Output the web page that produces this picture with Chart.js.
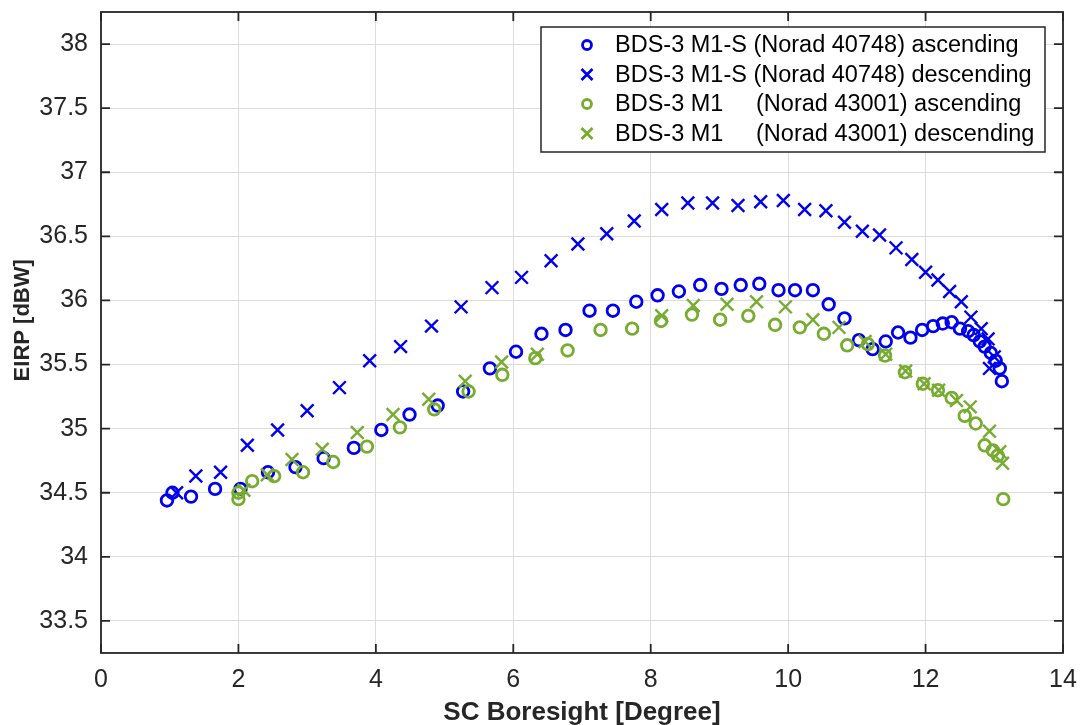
<!DOCTYPE html>
<html>
<head>
<meta charset="utf-8">
<script src="https://cdn.jsdelivr.net/npm/chart.js@4.4.1/dist/chart.umd.min.js"></script>
<style>
  html, body { margin: 0; padding: 0; background: #fff; }
</style>
</head>
<body>
<canvas id="grafico" width="1080" height="725"></canvas>
<script>
// Marcas dos eixos
const xTicks = [0, 2, 4, 6, 8, 10, 12, 14];
const yTicks = [33.5, 34, 34.5, 35, 35.5, 36, 36.5, 37, 37.5, 38];

// BDS-3 M1-S (Norad 40748) ascending
const m1sAscX = [0.96, 1.04, 1.31, 1.66, 2.03, 2.43, 2.83, 3.24, 3.68, 4.08, 4.49, 4.90, 5.27, 5.66, 6.04, 6.41, 6.76, 7.11, 7.45, 7.79, 8.10, 8.41, 8.72, 9.03, 9.31, 9.58, 9.86, 10.10, 10.36, 10.59, 10.82, 11.03, 11.23, 11.42, 11.60, 11.78, 11.95, 12.11, 12.25, 12.38, 12.50, 12.62, 12.70, 12.79, 12.86, 12.95, 13.02, 13.08, 13.11];
const m1sAscY = [34.44, 34.50, 34.47, 34.53, 34.53, 34.66, 34.70, 34.77, 34.85, 34.99, 35.11, 35.18, 35.29, 35.47, 35.60, 35.74, 35.77, 35.92, 35.92, 35.99, 36.04, 36.07, 36.12, 36.09, 36.12, 36.13, 36.08, 36.08, 36.08, 35.97, 35.86, 35.69, 35.62, 35.68, 35.75, 35.71, 35.77, 35.80, 35.82, 35.83, 35.78, 35.76, 35.73, 35.68, 35.64, 35.59, 35.53, 35.47, 35.37];

// BDS-3 M1-S (Norad 40748) descending
const m1sDescX = [1.10, 1.38, 1.74, 2.13, 2.57, 3.00, 3.47, 3.91, 4.36, 4.81, 5.24, 5.69, 6.12, 6.55, 6.94, 7.36, 7.76, 8.16, 8.54, 8.90, 9.27, 9.60, 9.93, 10.24, 10.55, 10.82, 11.08, 11.33, 11.57, 11.80, 12.00, 12.18, 12.35, 12.52, 12.66, 12.81, 12.91, 13.00, 12.93];
const m1sDescY = [34.50, 34.63, 34.66, 34.87, 34.99, 35.14, 35.32, 35.53, 35.64, 35.80, 35.95, 36.10, 36.18, 36.31, 36.44, 36.52, 36.62, 36.71, 36.76, 36.76, 36.74, 36.77, 36.78, 36.71, 36.70, 36.61, 36.54, 36.51, 36.41, 36.32, 36.22, 36.16, 36.07, 35.99, 35.87, 35.78, 35.70, 35.56, 35.47];

// BDS-3 M1 (Norad 43001) ascending
const m1AscX = [2.00, 2.00, 2.20, 2.52, 2.94, 3.38, 3.87, 4.35, 4.85, 5.35, 5.84, 6.32, 6.79, 7.27, 7.73, 8.15, 8.60, 9.01, 9.42, 9.81, 10.17, 10.52, 10.86, 11.16, 11.41, 11.70, 11.96, 12.18, 12.38, 12.57, 12.73, 12.86, 12.98, 13.05, 13.13];
const m1AscY = [34.45, 34.50, 34.59, 34.63, 34.66, 34.74, 34.86, 35.01, 35.15, 35.29, 35.42, 35.55, 35.61, 35.77, 35.78, 35.84, 35.89, 35.85, 35.88, 35.81, 35.79, 35.74, 35.65, 35.66, 35.57, 35.44, 35.35, 35.30, 35.24, 35.10, 35.04, 34.87, 34.83, 34.79, 34.45];

// BDS-3 M1 (Norad 43001) descending
const m1DescX = [2.08, 2.42, 2.78, 3.22, 3.73, 4.25, 4.77, 5.30, 5.83, 6.35, 8.16, 8.62, 9.11, 9.54, 9.96, 10.36, 10.74, 11.12, 11.42, 11.71, 11.98, 12.19, 12.45, 12.65, 12.93, 13.08, 13.12];
const m1DescY = [34.52, 34.64, 34.76, 34.84, 34.97, 35.11, 35.23, 35.37, 35.52, 35.58, 35.88, 35.96, 35.97, 35.99, 35.95, 35.85, 35.79, 35.68, 35.58, 35.45, 35.35, 35.30, 35.22, 35.17, 34.98, 34.82, 34.73];

const AZUL = '#0000ee';
const VERDE = '#77ac30';
const TEXTO = '#262626';
const FONTE = '"Liberation Sans", Arial, sans-serif';

const pontos = (xs, ys) => xs.map((x, i) => ({ x, y: ys[i] }));

const serie = (label, xs, ys, cor, estilo, ordem) => ({
  label,
  data: pontos(xs, ys),
  showLine: false,
  borderColor: cor,
  backgroundColor: 'rgba(0,0,0,0)',
  pointStyle: estilo,
  pointRadius: estilo === 'circle' ? 5.8 : 9,
  pointBorderWidth: estilo === 'circle' ? 2.8 : 2.4,
  order: ordem,
});

// Moldura da área do gráfico com marcas voltadas para dentro (estilo MATLAB)
const moldura = {
  id: 'moldura',
  afterDatasetsDraw(chart) {
    const { ctx, chartArea: a, scales: { x, y } } = chart;
    const len = 9;
    ctx.save();
    ctx.strokeStyle = TEXTO;
    ctx.lineWidth = 1.8;
    ctx.beginPath();
    xTicks.forEach((v) => {
      const px = x.getPixelForValue(v);
      ctx.moveTo(px, a.bottom); ctx.lineTo(px, a.bottom - len);
      ctx.moveTo(px, a.top); ctx.lineTo(px, a.top + len);
    });
    yTicks.forEach((v) => {
      const py = y.getPixelForValue(v);
      ctx.moveTo(a.left, py); ctx.lineTo(a.left + len, py);
      ctx.moveTo(a.right, py); ctx.lineTo(a.right - len, py);
    });
    ctx.stroke();
    ctx.strokeRect(a.left, a.top, a.right - a.left, a.bottom - a.top);
    ctx.restore();
  },
};

// Legenda dentro da área, canto superior direito, com caixa
const legenda = {
  id: 'legenda',
  afterDraw(chart) {
    const { ctx, chartArea: a } = chart;
    const w = 504, h = 125;
    const bx = a.right - 18 - w, by = a.top + 15;
    ctx.save();
    ctx.fillStyle = '#fff';
    ctx.fillRect(bx, by, w, h);
    ctx.strokeStyle = TEXTO;
    ctx.lineWidth = 1.5;
    ctx.strokeRect(bx, by, w, h);
    ctx.font = '23.5px ' + FONTE;
    ctx.textBaseline = 'middle';
    chart.data.datasets.forEach((ds, i) => {
      const cy = by + 18 + i * 29.5;
      const cx = bx + 46;
      ctx.strokeStyle = ds.borderColor;
      ctx.lineWidth = 2.8;
      ctx.beginPath();
      if (ds.pointStyle === 'circle') {
        ctx.arc(cx, cy, 4.5, 0, Math.PI * 2);
      } else {
        const d = 5.5;
        ctx.moveTo(cx - d, cy - d); ctx.lineTo(cx + d, cy + d);
        ctx.moveTo(cx - d, cy + d); ctx.lineTo(cx + d, cy - d);
      }
      ctx.stroke();
      ctx.fillStyle = '#000';
      ctx.fillText(ds.label, bx + 74, cy + 1);
    });
    ctx.restore();
  },
};

new Chart(document.getElementById('grafico'), {
  type: 'scatter',
  data: {
    datasets: [
      serie('BDS-3 M1-S (Norad 40748) ascending', m1sAscX, m1sAscY, AZUL, 'circle', 4),
      serie('BDS-3 M1-S (Norad 40748) descending', m1sDescX, m1sDescY, AZUL, 'crossRot', 3),
      serie('BDS-3 M1     (Norad 43001) ascending', m1AscX, m1AscY, VERDE, 'circle', 2),
      serie('BDS-3 M1     (Norad 43001) descending', m1DescX, m1DescY, VERDE, 'crossRot', 1),
    ],
  },
  options: {
    responsive: false,
    animation: false,
    layout: { padding: { top: 12, right: 17, left: 0, bottom: 0 } },
    plugins: { legend: { display: false }, tooltip: { enabled: false } },
    scales: {
      x: {
        type: 'linear',
        min: 0,
        max: 14,
        afterBuildTicks: (s) => { s.ticks = xTicks.map((v) => ({ value: v })); },
        afterFit: (s) => { s.height = 72; s.paddingLeft = 0; s.paddingRight = 0; },
        grid: { color: '#dcdcdc', lineWidth: 1, drawTicks: false },
        border: { display: false },
        ticks: { color: TEXTO, font: { family: FONTE, size: 25 }, padding: 12, callback: (v) => String(v) },
        title: {
          display: true,
          text: 'SC Boresight [Degree]',
          color: TEXTO,
          font: { family: FONTE, size: 26, weight: 'bold' },
          padding: { top: 0, bottom: -3 },
        },
      },
      y: {
        type: 'linear',
        min: 33.25,
        max: 38.25,
        afterBuildTicks: (s) => { s.ticks = yTicks.map((v) => ({ value: v })); },
        afterFit: (s) => { s.width = 101; s.paddingTop = 0; s.paddingBottom = 0; },
        grid: { color: '#dcdcdc', lineWidth: 1, drawTicks: false },
        border: { display: false },
        ticks: { color: TEXTO, font: { family: FONTE, size: 25 }, padding: 13, callback: (v) => String(v) },
        title: {
          display: true,
          // espaços à esquerda deslocam o título um pouco para cima, como no original
          text: '    EIRP [dBW]',
          color: TEXTO,
          font: { family: FONTE, size: 22, weight: 'bold' },
          padding: { top: 10, bottom: 0 },
        },
      },
    },
  },
  plugins: [moldura, legenda],
});
</script>
</body>
</html>
